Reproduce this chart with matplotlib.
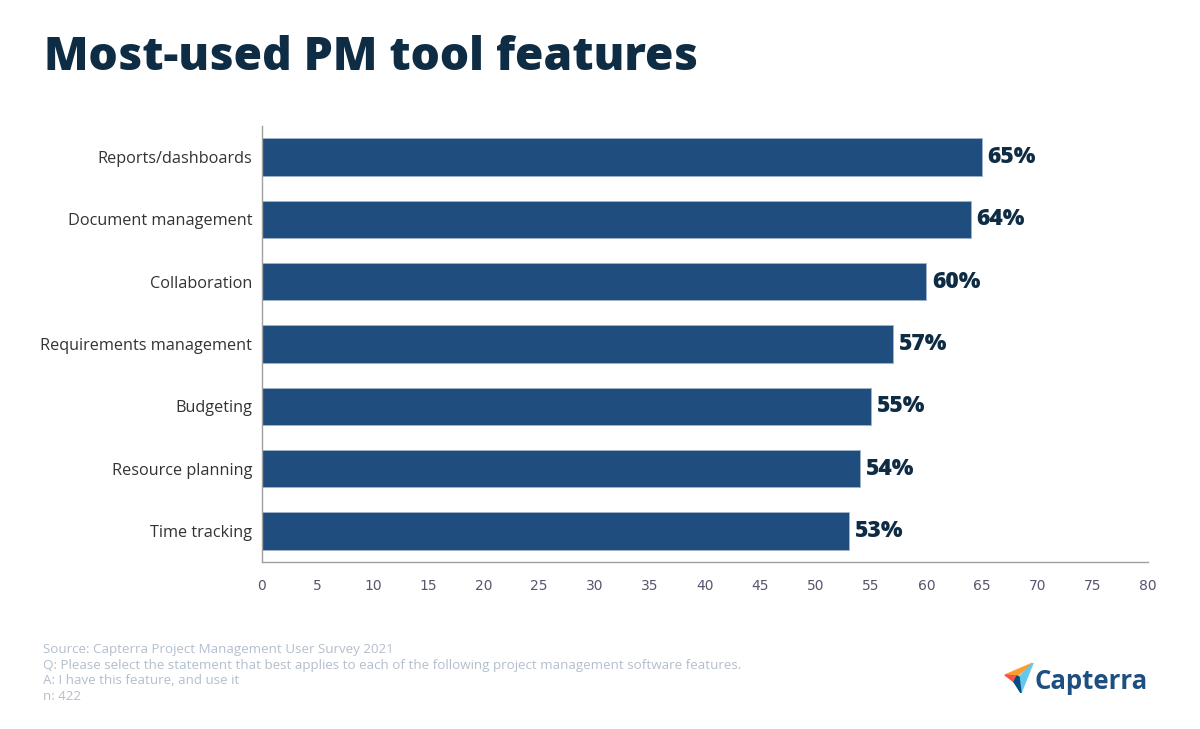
import numpy as np
import matplotlib.pyplot as plt
from matplotlib.patches import Polygon

features = ['Reports/dashboards', 'Document management', 'Collaboration',
            'Requirements management', 'Budgeting', 'Resource planning', 'Time tracking']
values = [65, 64, 60, 57, 55, 54, 53]
xticks = list(range(0, 85, 5))

notes = ['Source: Capterra Project Management User Survey 2021',
         'Q: Please select the statement that best applies to each of the following project management software features.',
         'A: I have this feature, and use it',
         'n: 422']

bar_color = '#1f4e7e'
dark = '#0f2c45'

plt.rcParams['font.family'] = ['Open Sans', 'DejaVu Sans']

fig = plt.figure(figsize=(12, 7.29), dpi=100)
ax = fig.add_axes([262/1200, 1-562/729, (1148-262)/1200, (562-126)/729])

pos = np.arange(len(features))[::-1]
ax.barh(pos, values, height=0.6, color=bar_color, edgecolor='#9fb5cc', linewidth=0.6)
for p, v in zip(pos, values):
    ax.text(v + 0.5, p, f'{v}%', va='center', ha='left', fontsize=16.5,
            fontweight='heavy', color=dark)

ax.set_ylim(-0.5, 6.5)
ax.set_xlim(0, 80)
ax.set_yticks(pos)
ax.set_yticklabels(features, fontsize=11.7, color='#333333')
ax.set_xticks(xticks)
ax.set_xticklabels([str(t) for t in xticks], fontsize=10, color='#55556e',
                   family=['Liberation Sans Narrow', 'DejaVu Sans'])
ax.tick_params(axis='both', length=0)
ax.tick_params(axis='x', pad=12)
ax.tick_params(axis='y', pad=7)
for s in ['top', 'right']:
    ax.spines[s].set_visible(False)
for s in ['left', 'bottom']:
    ax.spines[s].set_color('#a0a0a0')
    ax.spines[s].set_linewidth(1)

fig.text(44/1200, 1-70/729, 'Most-used PM tool features', fontsize=33.2,
         fontweight='heavy', color=dark, ha='left', va='baseline')

for i, line in enumerate(notes):
    fig.text(43/1200, 1-(653+15.7*i)/729, line, fontsize=9.6, color='#b3bfcc',
             ha='left', va='baseline')

# logo
lax = fig.add_axes([1004/1200, 1-693/729, 30/1200, 30/729])
lax.set_xlim(0, 30)
lax.set_ylim(0, 30)
lax.axis('off')
lax.add_patch(Polygon([[1, 18], [29, 30], [13, 17]], closed=True, color='#ff9d28'))
lax.add_patch(Polygon([[1, 18], [13, 17], [10, 11]], closed=True, color='#f4514f'))
lax.add_patch(Polygon([[29, 30], [15, 16], [17, 0]], closed=True, color='#66c7ee'))
lax.add_patch(Polygon([[13, 17], [15, 16], [17, 0], [10, 11]], closed=True, color='#044d80'))
fig.text(1035/1200, 1-689/729, 'Capterra', fontsize=18.5, fontweight='bold',
         color='#1d4f80', ha='left', va='baseline')

fig.savefig('out.png', dpi=100, facecolor='white')
